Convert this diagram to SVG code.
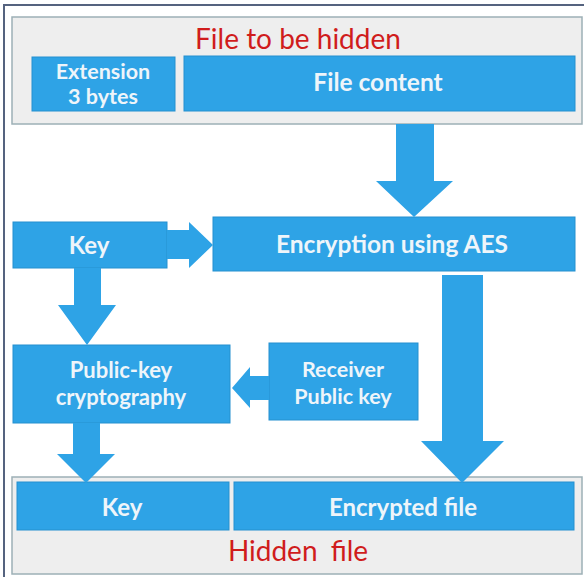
<svg xmlns="http://www.w3.org/2000/svg" width="584" height="582" viewBox="0 0 584 582">
  <style>
    .panel { fill: #eeeeee; stroke: #9db0b6; stroke-width: 1.5; }
    .box { fill: #2ea3e6; stroke: #2590cf; stroke-width: 1; }
    .arrow { fill: #2ea3e6; }
    .label { font-family: Lato, "Open Sans", "Liberation Sans", sans-serif; font-weight: bold; fill: #eef5fa; text-anchor: middle; }
    .title { font-family: Lato, "Open Sans", "Liberation Sans", sans-serif; fill: #d01c1c; text-anchor: middle; font-size: 28px; }
  </style>
  <rect width="584" height="582" fill="#ffffff"/>
  <!-- frame edge -->
  <path d="M4 577 V5 H584" fill="none" stroke="#55637f" stroke-width="2"/>

  <g id="file-to-be-hidden">
    <rect class="panel" x="12" y="17" width="570" height="107"/>
    <text class="title" x="298" y="49">File to be hidden</text>
  </g>
  <g id="extension">
    <rect class="box" x="32" y="57" width="143" height="54"/>
    <text class="label" x="103" y="79" font-size="21.5">Extension</text>
    <text class="label" x="103" y="104" font-size="21.5">3 bytes</text>
  </g>
  <g id="file-content">
    <rect class="box" x="184" y="56" width="391" height="55"/>
    <text class="label" x="378" y="91" font-size="24.5">File content</text>
  </g>
  <g id="key">
    <rect class="box" x="13" y="222" width="154" height="46"/>
    <text class="label" x="89" y="254" font-size="24">Key</text>
  </g>
  <g id="encryption">
    <rect class="box" x="213" y="217" width="362" height="54"/>
    <text class="label" x="392" y="253" font-size="24.5">Encryption using AES</text>
  </g>
  <g id="public-key-cryptography">
    <rect class="box" x="13" y="345" width="217" height="78"/>
    <text class="label" x="121" y="378" font-size="22">Public-key</text>
    <text class="label" x="121" y="405" font-size="22">cryptography</text>
  </g>
  <g id="receiver-public-key">
    <rect class="box" x="269" y="343" width="149" height="77"/>
    <text class="label" x="343" y="377" font-size="21.5">Receiver</text>
    <text class="label" x="343" y="404" font-size="21.5">Public key</text>
  </g>
  <g id="hidden-file">
    <rect class="panel" x="12" y="477" width="570" height="97"/>
    <text class="title" x="298" y="561" font-size="27" word-spacing="6">Hidden file</text>
  </g>
  <g id="hidden-key">
    <rect class="box" x="17" y="482" width="212" height="48"/>
    <text class="label" x="122" y="516" font-size="24">Key</text>
  </g>
  <g id="encrypted-file">
    <rect class="box" x="234" y="482" width="340" height="48"/>
    <text class="label" x="403" y="516" font-size="24">Encrypted file</text>
  </g>

  <g id="connectors">
    <!-- file content to encryption -->
    <polygon class="arrow" points="396,124 434,124 434,181 453,181 414,217 376,181 396,181"/>
    <!-- key to encryption -->
    <polygon class="arrow" points="167,230 189,230 189,222 213,245 189,268 189,259 167,259"/>
    <!-- key to public-key cryptography -->
    <polygon class="arrow" points="74,268 101,268 101,305 116,305 87,345 58,305 74,305"/>
    <!-- receiver public key to public-key cryptography -->
    <polygon class="arrow" points="269,376 250,376 250,367 232,388 250,408 250,400 269,400"/>
    <!-- public-key cryptography to hidden key -->
    <polygon class="arrow" points="73,423 100,423 100,454 115,454 86,483 57,454 73,454"/>
    <!-- encryption to encrypted file -->
    <polygon class="arrow" points="442,275 483,275 483,441 504,441 462,483 421,441 442,441"/>
  </g>
</svg>
